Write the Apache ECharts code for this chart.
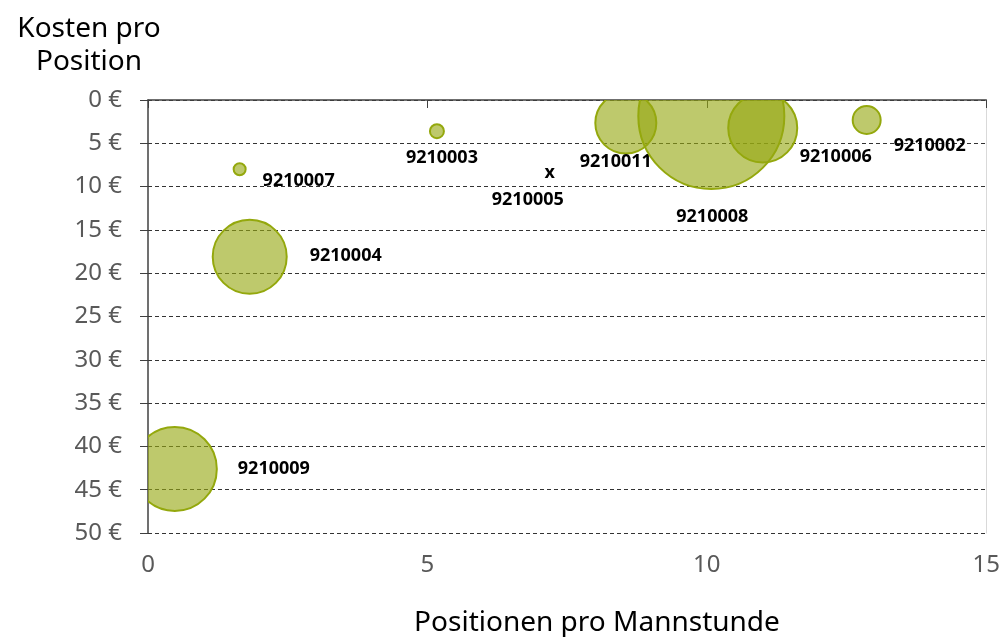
<!DOCTYPE html>
<html>
<head>
<meta charset="utf-8">
<script src="https://cdn.jsdelivr.net/npm/echarts@6/dist/echarts.min.js"></script>
<style>
  html, body { margin: 0; padding: 0; background: #fff; }
  #chart { width: 1003px; height: 637px; }
</style>
</head>
<body>
<div id="chart"></div>
<script>
// Daten
const names = ['9210009', '9210004', '9210007', '9210003', '9210005', '9210011', '9210008', '9210006', '9210002'];
const posProMannstunde = [0.48, 1.82, 1.64, 5.17, 7.19, 8.55, 10.08, 11.0, 12.86];
const kostenProPosition = [42.6, 18.1, 8.0, 3.6, 8.4, 2.66, 1.85, 3.23, 2.31];
const bubbleSize = [1764, 1369, 36, 49, 0, 930, 5329, 1190, 196];

// Beschriftungs-Versatz (Pixel) je Blase
const labelOffsets = [[99, 0], [96, -1], [59, 12], [5, 27], [-22, 27], [-10, 39], [1, 101], [73, 29], [63, 26]];

const font = 'Noto Sans';
const labelFont = 'bold 18px "Noto Sans"';

let data = names.map((n, i) => [posProMannstunde[i], kostenProPosition[i], bubbleSize[i]]);

// Blasen zeichnen, am Plotbereich abgeschnitten
function renderBubble(params, api) {
  const i = params.dataIndex;
  const pt = api.coord([api.value(0), api.value(1)]);
  const r = Math.sqrt(api.value(2));
  const cs = params.coordSys;
  const off = labelOffsets[i];
  let children = [];
  if (r > 0) {
    children.push({
      type: 'circle',
      shape: { cx: pt[0], cy: pt[1], r: r },
      style: { fill: 'rgba(150, 168, 18, 0.62)', stroke: '#94a80d', lineWidth: 2 },
      clipPath: { type: 'rect', shape: { x: cs.x, y: cs.y, width: cs.width, height: cs.height } },
    });
  } else {
    children.push({
      type: 'text',
      x: pt[0],
      y: pt[1],
      style: { text: 'x', font: labelFont, fill: '#000', align: 'center', verticalAlign: 'middle' },
    });
  }
  children.push({
    type: 'text',
    x: pt[0] + off[0],
    y: pt[1] + off[1],
    style: { text: names[i], font: labelFont, fill: '#000', align: 'center', verticalAlign: 'middle' },
  });
  return { type: 'group', children: children };
}

let chart = echarts.init(document.getElementById('chart'));
let option = {
  animation: false,
  title: [
    {
      text: 'Kosten pro\nPosition',
      left: 84,
      top: 8,
      textAlign: 'center',
      textStyle: { fontFamily: font, fontSize: 28, fontWeight: 'normal', color: '#000', lineHeight: 33 },
    },
    {
      text: 'Positionen pro Mannstunde',
      left: 592,
      top: 604,
      textAlign: 'center',
      textStyle: { fontFamily: font, fontSize: 28, fontWeight: 'normal', color: '#000' },
    },
  ],
  grid: { left: 148, right: 16, top: 100, bottom: 104 },
  xAxis: {
    type: 'value',
    min: 0,
    max: 15,
    interval: 5,
    axisLine: { show: true, lineStyle: { color: '#404040', width: 1.5 } },
    axisTick: { show: true, length: 8, lineStyle: { color: '#404040' } },
    splitLine: { show: false },
    axisLabel: { fontFamily: font, fontSize: 24, color: '#595959', margin: 20 },
  },
  yAxis: [
    {
      type: 'value',
      inverse: true,
      min: 0,
      max: 50,
      interval: 5,
      axisLine: { show: true, lineStyle: { color: '#404040', width: 1.5 } },
      axisTick: { show: true, length: 8, lineStyle: { color: '#404040' } },
      splitLine: { show: true, lineStyle: { color: '#333', type: [4, 3], width: 1 } },
      axisLabel: { fontFamily: font, fontSize: 24, color: '#595959', margin: 26, formatter: '{value} €' },
    },
    {
      // rechter Rahmen
      type: 'value',
      inverse: true,
      position: 'right',
      min: 0,
      max: 50,
      interval: 5,
      axisLine: { show: true, lineStyle: { color: '#d9d9d9', width: 1 } },
      axisTick: { show: false },
      axisLabel: { show: false },
      splitLine: { show: false },
    },
  ],
  series: [
    {
      type: 'custom',
      coordinateSystem: 'cartesian2d',
      renderItem: renderBubble,
      encode: { x: 0, y: 1 },
      data: data,
      silent: true,
    },
  ],
};
chart.setOption(option);
</script>
</body>
</html>
